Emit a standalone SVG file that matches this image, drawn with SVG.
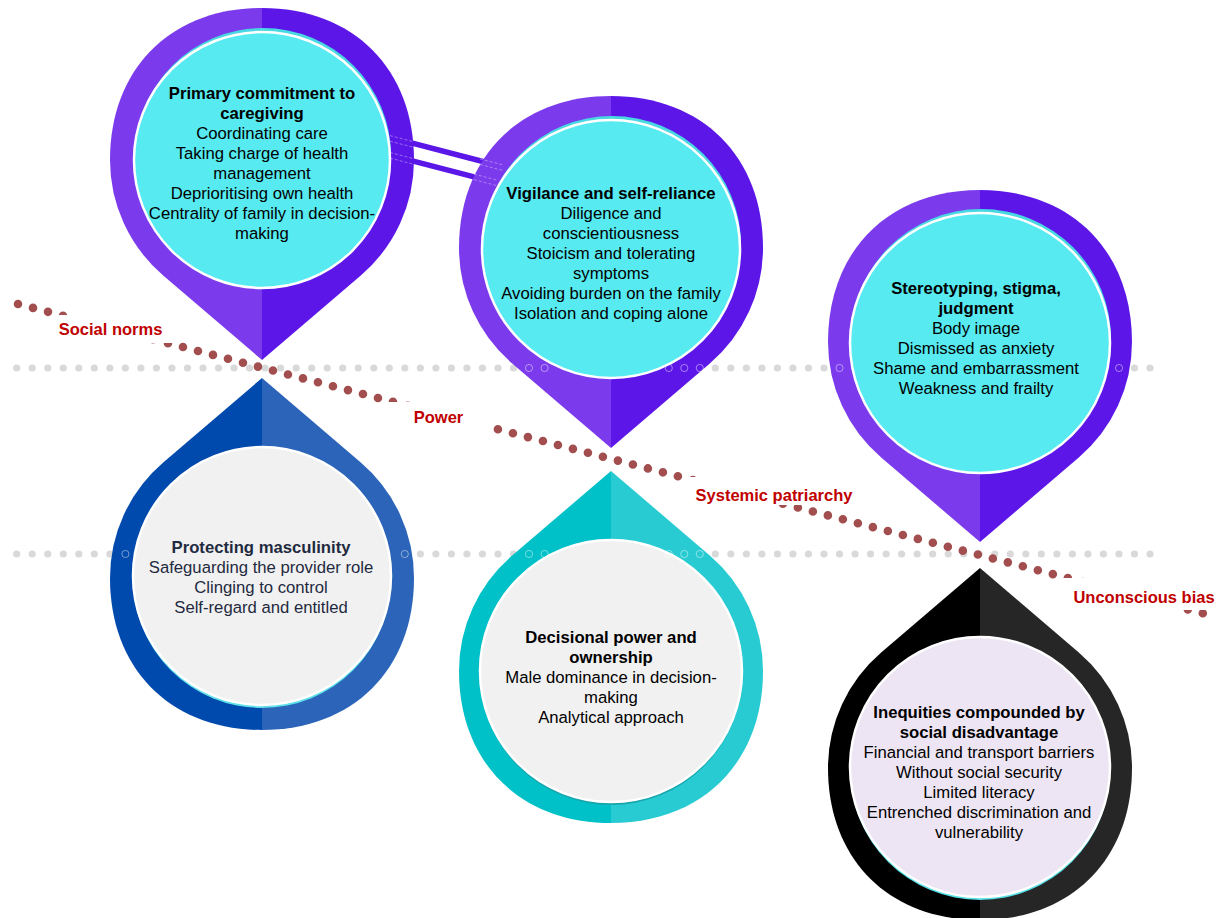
<svg xmlns="http://www.w3.org/2000/svg" width="1220" height="918" viewBox="0 0 1220 918">
<defs>
<style>
.t{font-family:"Liberation Sans",Arial,sans-serif;font-size:16.7px;text-anchor:middle;fill:#000}
.b{font-weight:bold}
.nv{fill:#1f2a40}
.lbl{font-family:"Liberation Sans",Arial,sans-serif;font-size:16.5px;font-weight:bold;fill:#c00000;text-anchor:middle}
.inner{stroke:#fff;stroke-width:2.5}
.gray{stroke:#d9d9d9;stroke-width:7.2;stroke-linecap:round;stroke-dasharray:0 15.525;fill:none}
.red{stroke:#a34e4e;stroke-width:8.6;stroke-linecap:round;stroke-dasharray:0 15.5;fill:none}
.hol{fill:none;stroke:#fff;stroke-opacity:0.45;stroke-width:1}
.conn{stroke:#5b16e8;stroke-width:5.5;fill:none}
.faint{stroke:#fff;stroke-opacity:0.45;stroke-width:0.8;stroke-dasharray:3 2;fill:none}
</style>
<linearGradient id="gTop" x1="0" y1="0" x2="1" y2="0"><stop offset="0.5" stop-color="#7b3aec"/><stop offset="0.5" stop-color="#5c17e8"/></linearGradient>
<linearGradient id="gBlue" x1="0" y1="0" x2="1" y2="0"><stop offset="0.5" stop-color="#0049ad"/><stop offset="0.5" stop-color="#2b64b8"/></linearGradient>
<linearGradient id="gTeal" x1="0" y1="0" x2="1" y2="0"><stop offset="0.5" stop-color="#00c0c8"/><stop offset="0.5" stop-color="#28cbd2"/></linearGradient>
<linearGradient id="gBlack" x1="0" y1="0" x2="1" y2="0"><stop offset="0.5" stop-color="#000"/><stop offset="0.5" stop-color="#262626"/></linearGradient>
</defs>
<rect width="1220" height="918" fill="#fff"/>
<g id="gridlines">
<line class="gray" x1="16.7" y1="368" x2="1151" y2="368"/>
<line class="gray" x1="16.7" y1="554" x2="1151" y2="554"/>
</g>
<g id="connectors">
<line class="conn" x1="395" y1="138.7" x2="502" y2="166.5"/>
<line class="conn" x1="395" y1="156.3" x2="500" y2="183.6"/>
</g>
<g id="pin-caregiving">
<path fill="url(#gTop)" d="M110,160 C110,68.8 170.8,8 262,8 C353.2,8 414,68.8 414,160 A152,152 0 0 1 360.8,275.5 L262,360 L163.2,275.5 A152,152 0 0 1 110,160Z"/>
<circle cx="263" cy="156" r="128" fill="#48d8e2"/>
<circle class="inner" cx="262" cy="160" r="128" fill="#57eaf0"/>
<text class="t b" x="262" y="99">Primary commitment to</text>
<text class="t b" x="262" y="119">caregiving</text>
<text class="t" x="262" y="139">Coordinating care</text>
<text class="t" x="262" y="159">Taking charge of health</text>
<text class="t" x="262" y="179">management</text>
<text class="t" x="262" y="199">Deprioritising own health</text>
<text class="t" x="262" y="219">Centrality of family in decision-</text>
<text class="t" x="262" y="239">making</text>
</g>
<g id="pin-vigilance">
<path fill="url(#gTop)" d="M459,248 C459,156.8 519.8,96 611,96 C702.2,96 763,156.8 763,248 A152,152 0 0 1 709.8,363.5 L611,448 L512.2,363.5 A152,152 0 0 1 459,248Z"/>
<circle cx="612" cy="245" r="129" fill="#48d8e2"/>
<circle class="inner" cx="611" cy="249" r="129" fill="#57eaf0"/>
<text class="t b" x="611" y="198.5">Vigilance and self-reliance</text>
<text class="t" x="611" y="218.5">Diligence and</text>
<text class="t" x="611" y="238.5">conscientiousness</text>
<text class="t" x="611" y="258.5">Stoicism and tolerating</text>
<text class="t" x="611" y="278.5">symptoms</text>
<text class="t" x="611" y="298.5">Avoiding burden on the family</text>
<text class="t" x="611" y="318.5">Isolation and coping alone</text>
</g>
<g id="pin-stereotyping">
<path fill="url(#gTop)" d="M828,342 C828,250.8 888.8,190 980,190 C1071.2,190 1132,250.8 1132,342 A152,152 0 0 1 1078.8,457.5 L980,542 L881.2,457.5 A152,152 0 0 1 828,342Z"/>
<circle cx="981" cy="339" r="130" fill="#48d8e2"/>
<circle class="inner" cx="980" cy="343" r="130" fill="#57eaf0"/>
<text class="t b" x="976" y="293.5">Stereotyping, stigma,</text>
<text class="t b" x="976" y="313.5">judgment</text>
<text class="t" x="976" y="333.5">Body image</text>
<text class="t" x="976" y="353.5">Dismissed as anxiety</text>
<text class="t" x="976" y="373.5">Shame and embarrassment</text>
<text class="t" x="976" y="393.5">Weakness and frailty</text>
</g>
<g id="pin-masculinity">
<path fill="url(#gBlue)" d="M110,578 C110,669.2 170.8,730 262,730 C353.2,730 414,669.2 414,578 A152,152 0 0 0 360.8,462.5 L262,378 L163.2,462.5 A152,152 0 0 0 110,578Z"/>
<circle cx="262" cy="579" r="129" fill="#5ee1e8"/>
<circle class="inner" cx="262" cy="576" r="129" fill="#f1f1f1"/>
<text class="t b nv" x="261" y="553">Protecting masculinity</text>
<text class="t nv" x="261" y="573">Safeguarding the provider role</text>
<text class="t nv" x="261" y="593">Clinging to control</text>
<text class="t nv" x="261" y="613">Self-regard and entitled</text>
</g>
<g id="pin-decisional">
<path fill="url(#gTeal)" d="M459,671 C459,762.2 519.8,823 611,823 C702.2,823 763,762.2 763,671 A152,152 0 0 0 709.8,555.5 L611,471 L512.2,555.5 A152,152 0 0 0 459,671Z"/>
<circle cx="611" cy="674" r="131" fill="#16a6ac"/>
<circle class="inner" cx="611" cy="671" r="131" fill="#f1f1f1"/>
<text class="t b" x="611" y="643">Decisional power and</text>
<text class="t b" x="611" y="663">ownership</text>
<text class="t" x="611" y="683">Male dominance in decision-</text>
<text class="t" x="611" y="703">making</text>
<text class="t" x="611" y="723">Analytical approach</text>
</g>
<g id="pin-inequities">
<path fill="url(#gBlack)" d="M828,768 C828,859.2 888.8,920 980,920 C1071.2,920 1132,859.2 1132,768 A152,152 0 0 0 1078.8,652.5 L980,568 L881.2,652.5 A152,152 0 0 0 828,768Z"/>
<circle cx="980" cy="770" r="130" fill="#55dfe6"/>
<circle class="inner" cx="980" cy="767" r="130" fill="#ede5f3"/>
<text class="t b" x="979" y="718">Inequities compounded by</text>
<text class="t b" x="979" y="738">social disadvantage</text>
<text class="t" x="979" y="758">Financial and transport barriers</text>
<text class="t" x="979" y="778">Without social security</text>
<text class="t" x="979" y="798">Limited literacy</text>
<text class="t" x="979" y="818">Entrenched discrimination and</text>
<text class="t" x="979" y="838">vulnerability</text>
</g>
<g id="overlay-details">
<line class="faint" x1="390" y1="135.6" x2="413" y2="141.6"/>
<line class="faint" x1="390" y1="141.2" x2="413" y2="147.2"/>
<line class="faint" x1="390" y1="152.5" x2="413" y2="158.5"/>
<line class="faint" x1="390" y1="158.1" x2="413" y2="164.1"/>
<line class="faint" x1="480" y1="158.9" x2="503" y2="164.9"/>
<line class="faint" x1="480" y1="164.5" x2="503" y2="170.5"/>
<line class="faint" x1="474" y1="174.1" x2="497" y2="180.1"/>
<line class="faint" x1="474" y1="179.7" x2="497" y2="185.7"/>
<circle class="hol" cx="529" cy="368" r="3.6"/>
<circle class="hol" cx="544.6" cy="368" r="3.6"/>
<circle class="hol" cx="668.8" cy="368" r="3.6"/>
<circle class="hol" cx="684.3" cy="368" r="3.6"/>
<circle class="hol" cx="699.8" cy="368" r="3.6"/>
<circle class="hol" cx="839.5" cy="368" r="3.6"/>
<circle class="hol" cx="1119" cy="368" r="3.6"/>
<circle class="hol" cx="125.4" cy="554" r="3.6"/>
<circle class="hol" cx="404.8" cy="554" r="3.6"/>
<circle class="hol" cx="529" cy="554" r="3.6"/>
<circle class="hol" cx="544.6" cy="554" r="3.6"/>
<circle class="hol" cx="668.8" cy="554" r="3.6"/>
<circle class="hol" cx="684.3" cy="554" r="3.6"/>
<circle class="hol" cx="699.8" cy="554" r="3.6"/>
</g>
<g id="forces">
<line class="red" x1="18" y1="304" x2="1206" y2="614.1"/>
<rect x="55" y="315" width="121" height="28" fill="#fff"/>
<text class="lbl" x="110.5" y="335">Social norms</text>
<rect x="386" y="402" width="105" height="28" fill="#fff"/>
<text class="lbl" x="438.5" y="422.5">Power</text>
<rect x="687" y="477" width="175" height="28" fill="#fff"/>
<text class="lbl" x="774" y="501">Systemic patriarchy</text>
<rect x="1062" y="578" width="158" height="32" fill="#fff"/>
<text class="lbl" x="1144" y="602.5">Unconscious bias</text>
</g>
</svg>
